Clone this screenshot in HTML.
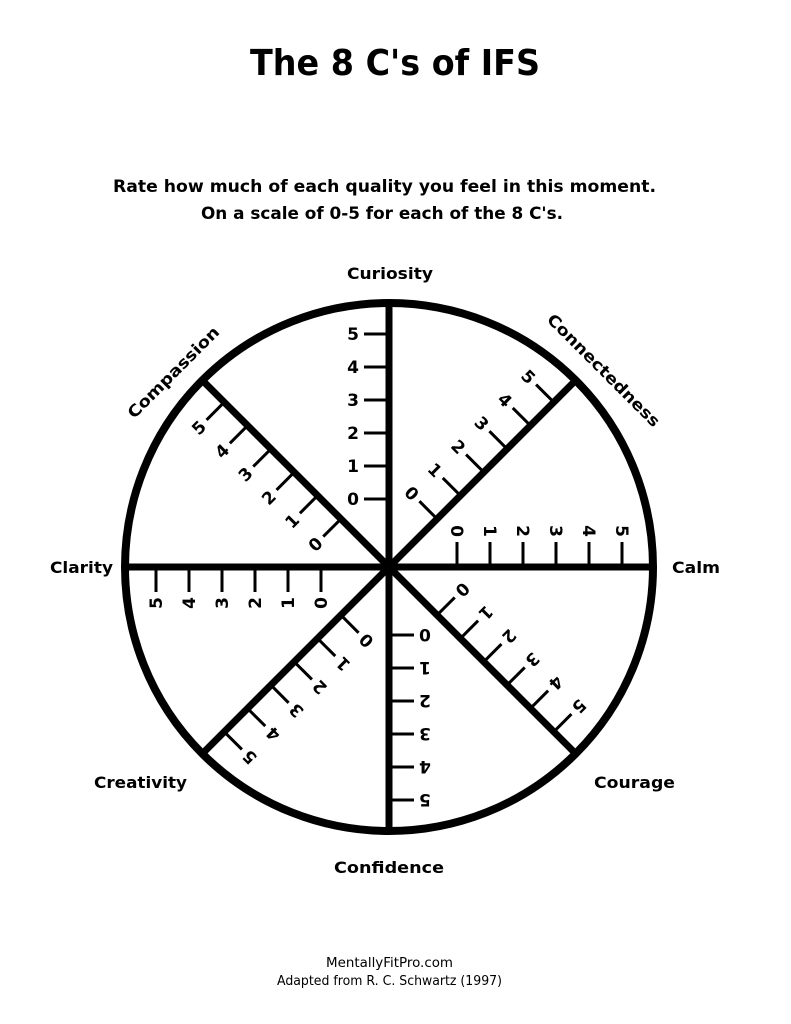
<!DOCTYPE html>
<html><head><meta charset="utf-8">
<style>
html,body{margin:0;padding:0;background:#fff;}
svg{display:block;}
text{font-family:"DejaVu Sans","Liberation Sans",sans-serif;font-weight:bold;fill:#000;}
</style></head><body>
<svg width="791" height="1024" viewBox="0 0 791 1024" xmlns="http://www.w3.org/2000/svg">
<text x="250" y="75" font-size="36" textLength="290" lengthAdjust="spacingAndGlyphs">The 8 C's of IFS</text>
<text x="113" y="192" font-size="17" textLength="543" lengthAdjust="spacingAndGlyphs">Rate how much of each quality you feel in this moment.</text>
<text x="201" y="219" font-size="17" textLength="362" lengthAdjust="spacingAndGlyphs">On a scale of 0-5 for each of the 8 C's.</text>

<text x="347" y="279" font-size="16" textLength="86" lengthAdjust="spacingAndGlyphs">Curiosity</text>
<text x="672" y="573" font-size="16" textLength="48" lengthAdjust="spacingAndGlyphs">Calm</text>
<text x="594" y="788" font-size="16" textLength="81" lengthAdjust="spacingAndGlyphs">Courage</text>
<text x="334" y="873" font-size="16" textLength="110" lengthAdjust="spacingAndGlyphs">Confidence</text>
<text x="94" y="788" font-size="16" textLength="93" lengthAdjust="spacingAndGlyphs">Creativity</text>
<text x="50" y="573" font-size="16" textLength="63" lengthAdjust="spacingAndGlyphs">Clarity</text>
<text transform="translate(604,370) rotate(45)" font-size="16" x="-76" y="6" textLength="152" lengthAdjust="spacingAndGlyphs">Connectedness</text>
<text transform="translate(173,372) rotate(-45)" font-size="16" x="-61" y="6" textLength="122" lengthAdjust="spacingAndGlyphs">Compassion</text>

<g transform="translate(389,567)">
<circle r="264" fill="none" stroke="#000" stroke-width="8"/>
<circle r="8" fill="#000"/>
<g>
<line x1="0" y1="0" x2="0" y2="-264" stroke="#000" stroke-width="7"/>
<g stroke="#000" stroke-width="3"><line x1="-25" y1="-68" x2="0" y2="-68"/><line x1="-25" y1="-101" x2="0" y2="-101"/><line x1="-25" y1="-134" x2="0" y2="-134"/><line x1="-25" y1="-167" x2="0" y2="-167"/><line x1="-25" y1="-200" x2="0" y2="-200"/><line x1="-25" y1="-233" x2="0" y2="-233"/></g>
<g font-size="17" text-anchor="middle"><text x="-36" y="-62">0</text><text x="-36" y="-95">1</text><text x="-36" y="-128">2</text><text x="-36" y="-161">3</text><text x="-36" y="-194">4</text><text x="-36" y="-227">5</text></g>
</g>
<g transform="rotate(45)">
<line x1="0" y1="0" x2="0" y2="-264" stroke="#000" stroke-width="7"/>
<g stroke="#000" stroke-width="3"><line x1="-25" y1="-68" x2="0" y2="-68"/><line x1="-25" y1="-101" x2="0" y2="-101"/><line x1="-25" y1="-134" x2="0" y2="-134"/><line x1="-25" y1="-167" x2="0" y2="-167"/><line x1="-25" y1="-200" x2="0" y2="-200"/><line x1="-25" y1="-233" x2="0" y2="-233"/></g>
<g font-size="17" text-anchor="middle"><text x="-36" y="-62">0</text><text x="-36" y="-95">1</text><text x="-36" y="-128">2</text><text x="-36" y="-161">3</text><text x="-36" y="-194">4</text><text x="-36" y="-227">5</text></g>
</g>
<g transform="rotate(90)">
<line x1="0" y1="0" x2="0" y2="-264" stroke="#000" stroke-width="7"/>
<g stroke="#000" stroke-width="3"><line x1="-25" y1="-68" x2="0" y2="-68"/><line x1="-25" y1="-101" x2="0" y2="-101"/><line x1="-25" y1="-134" x2="0" y2="-134"/><line x1="-25" y1="-167" x2="0" y2="-167"/><line x1="-25" y1="-200" x2="0" y2="-200"/><line x1="-25" y1="-233" x2="0" y2="-233"/></g>
<g font-size="17" text-anchor="middle"><text x="-36" y="-62">0</text><text x="-36" y="-95">1</text><text x="-36" y="-128">2</text><text x="-36" y="-161">3</text><text x="-36" y="-194">4</text><text x="-36" y="-227">5</text></g>
</g>
<g transform="rotate(135)">
<line x1="0" y1="0" x2="0" y2="-264" stroke="#000" stroke-width="7"/>
<g stroke="#000" stroke-width="3"><line x1="-25" y1="-68" x2="0" y2="-68"/><line x1="-25" y1="-101" x2="0" y2="-101"/><line x1="-25" y1="-134" x2="0" y2="-134"/><line x1="-25" y1="-167" x2="0" y2="-167"/><line x1="-25" y1="-200" x2="0" y2="-200"/><line x1="-25" y1="-233" x2="0" y2="-233"/></g>
<g font-size="17" text-anchor="middle"><text x="-36" y="-62">0</text><text x="-36" y="-95">1</text><text x="-36" y="-128">2</text><text x="-36" y="-161">3</text><text x="-36" y="-194">4</text><text x="-36" y="-227">5</text></g>
</g>
<g transform="rotate(180)">
<line x1="0" y1="0" x2="0" y2="-264" stroke="#000" stroke-width="7"/>
<g stroke="#000" stroke-width="3"><line x1="-25" y1="-68" x2="0" y2="-68"/><line x1="-25" y1="-101" x2="0" y2="-101"/><line x1="-25" y1="-134" x2="0" y2="-134"/><line x1="-25" y1="-167" x2="0" y2="-167"/><line x1="-25" y1="-200" x2="0" y2="-200"/><line x1="-25" y1="-233" x2="0" y2="-233"/></g>
<g font-size="17" text-anchor="middle"><text x="-36" y="-62">0</text><text x="-36" y="-95">1</text><text x="-36" y="-128">2</text><text x="-36" y="-161">3</text><text x="-36" y="-194">4</text><text x="-36" y="-227">5</text></g>
</g>
<g transform="rotate(225)">
<line x1="0" y1="0" x2="0" y2="-264" stroke="#000" stroke-width="7"/>
<g stroke="#000" stroke-width="3"><line x1="-25" y1="-68" x2="0" y2="-68"/><line x1="-25" y1="-101" x2="0" y2="-101"/><line x1="-25" y1="-134" x2="0" y2="-134"/><line x1="-25" y1="-167" x2="0" y2="-167"/><line x1="-25" y1="-200" x2="0" y2="-200"/><line x1="-25" y1="-233" x2="0" y2="-233"/></g>
<g font-size="17" text-anchor="middle"><text x="-36" y="-62">0</text><text x="-36" y="-95">1</text><text x="-36" y="-128">2</text><text x="-36" y="-161">3</text><text x="-36" y="-194">4</text><text x="-36" y="-227">5</text></g>
</g>
<g transform="rotate(270)">
<line x1="0" y1="0" x2="0" y2="-264" stroke="#000" stroke-width="7"/>
<g stroke="#000" stroke-width="3"><line x1="-25" y1="-68" x2="0" y2="-68"/><line x1="-25" y1="-101" x2="0" y2="-101"/><line x1="-25" y1="-134" x2="0" y2="-134"/><line x1="-25" y1="-167" x2="0" y2="-167"/><line x1="-25" y1="-200" x2="0" y2="-200"/><line x1="-25" y1="-233" x2="0" y2="-233"/></g>
<g font-size="17" text-anchor="middle"><text x="-36" y="-62">0</text><text x="-36" y="-95">1</text><text x="-36" y="-128">2</text><text x="-36" y="-161">3</text><text x="-36" y="-194">4</text><text x="-36" y="-227">5</text></g>
</g>
<g transform="rotate(315)">
<line x1="0" y1="0" x2="0" y2="-264" stroke="#000" stroke-width="7"/>
<g stroke="#000" stroke-width="3"><line x1="-25" y1="-68" x2="0" y2="-68"/><line x1="-25" y1="-101" x2="0" y2="-101"/><line x1="-25" y1="-134" x2="0" y2="-134"/><line x1="-25" y1="-167" x2="0" y2="-167"/><line x1="-25" y1="-200" x2="0" y2="-200"/><line x1="-25" y1="-233" x2="0" y2="-233"/></g>
<g font-size="17" text-anchor="middle"><text x="-36" y="-62">0</text><text x="-36" y="-95">1</text><text x="-36" y="-128">2</text><text x="-36" y="-161">3</text><text x="-36" y="-194">4</text><text x="-36" y="-227">5</text></g>
</g>
</g>

<text x="326" y="967" font-size="13" textLength="127" lengthAdjust="spacingAndGlyphs" style="font-weight:normal">MentallyFitPro.com</text>
<text x="277" y="985" font-size="13" textLength="225" lengthAdjust="spacingAndGlyphs" style="font-weight:normal">Adapted from R. C. Schwartz (1997)</text>
</svg>
</body></html>
